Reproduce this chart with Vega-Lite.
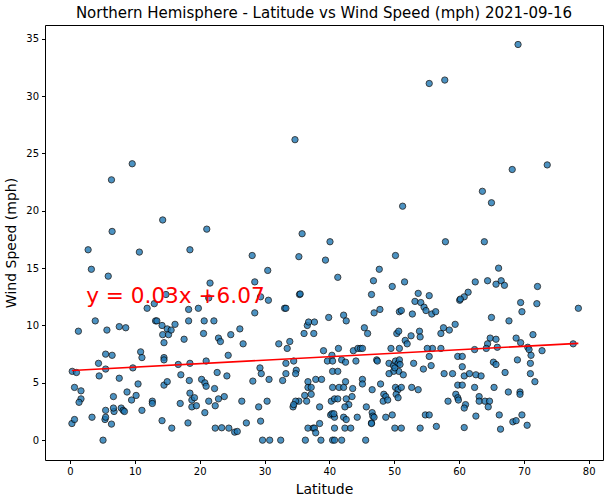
{
  "$schema": "https://vega.github.io/schema/vega-lite/v6.json",
  "width": 558,
  "height": 435,
  "autosize": {"type": "none"},
  "padding": {"left": 45, "top": 25, "right": 7, "bottom": 42},
  "background": "white",
  "config": {
    "font": "DejaVu Sans",
    "view": {"stroke": "#000000", "strokeWidth": 1},
    "axis": {
      "grid": false,
      "domain": false,
      "tickColor": "#000000",
      "tickSize": 3.5,
      "labelFontSize": 10,
      "labelColor": "#000000",
      "labelPadding": 3,
      "titleFontSize": 14,
      "titleFontWeight": "normal",
      "titleColor": "#000000"
    }
  },
  "title": {
    "text": "Northern Hemisphere - Latitude vs Wind Speed (mph) 2021-09-16",
    "fontSize": 15,
    "fontWeight": "normal",
    "color": "#000000",
    "offset": 4
  },
  "datasets": {
    "cities": [
      {"lat": 0.3, "wind": 1.45}, {"lat": 0.7, "wind": 1.8}, {"lat": 0.35, "wind": 6.0}, {"lat": 1.0, "wind": 5.9},
      {"lat": 0.7, "wind": 4.6}, {"lat": 1.7, "wind": 4.3}, {"lat": 1.7, "wind": 3.6}, {"lat": 1.4, "wind": 3.3},
      {"lat": 1.3, "wind": 9.5}, {"lat": 3.4, "wind": 2.0}, {"lat": 3.9, "wind": 10.4}, {"lat": 4.4, "wind": 6.7},
      {"lat": 4.5, "wind": 5.6}, {"lat": 5.1, "wind": 0}, {"lat": 5.4, "wind": 1.8}, {"lat": 5.5, "wind": 2.0},
      {"lat": 5.5, "wind": 2.6}, {"lat": 5.5, "wind": 7.5}, {"lat": 5.5, "wind": 6.2}, {"lat": 5.7, "wind": 9.6},
      {"lat": 6.4, "wind": 1.4}, {"lat": 6.5, "wind": 7.4}, {"lat": 6.7, "wind": 3.8}, {"lat": 6.8, "wind": 2.5},
      {"lat": 6.7, "wind": 2.8}, {"lat": 7.6, "wind": 9.9}, {"lat": 7.6, "wind": 5.4}, {"lat": 7.9, "wind": 2.8},
      {"lat": 8.2, "wind": 2.6}, {"lat": 8.4, "wind": 2.5}, {"lat": 8.6, "wind": 9.8}, {"lat": 8.8, "wind": 4.2},
      {"lat": 9.5, "wind": 3.5}, {"lat": 9.7, "wind": 6.3}, {"lat": 10.2, "wind": 3.9}, {"lat": 10.5, "wind": 4.9},
      {"lat": 10.9, "wind": 7.7}, {"lat": 11.1, "wind": 7.2}, {"lat": 11.1, "wind": 2.6}, {"lat": 11.9, "wind": 11.5},
      {"lat": 12.7, "wind": 3.4}, {"lat": 12.7, "wind": 3.2}, {"lat": 13.0, "wind": 11.9}, {"lat": 13.2, "wind": 10.4},
      {"lat": 13.4, "wind": 10.4}, {"lat": 14.2, "wind": 10.0}, {"lat": 14.2, "wind": 1.7}, {"lat": 14.3, "wind": 9.2},
      {"lat": 14.5, "wind": 8.5}, {"lat": 14.5, "wind": 7.2}, {"lat": 14.5, "wind": 7.0}, {"lat": 14.5, "wind": 4.8},
      {"lat": 15.0, "wind": 5.1}, {"lat": 15.0, "wind": 9.7}, {"lat": 15.2, "wind": 9.2}, {"lat": 15.6, "wind": 9.6},
      {"lat": 15.7, "wind": 1.05}, {"lat": 16.2, "wind": 10.1}, {"lat": 16.7, "wind": 6.6}, {"lat": 17.0, "wind": 3.2},
      {"lat": 17.1, "wind": 5.7}, {"lat": 17.6, "wind": 8.8}, {"lat": 18.2, "wind": 1.5}, {"lat": 18.3, "wind": 11.4},
      {"lat": 18.3, "wind": 10.4}, {"lat": 18.4, "wind": 5.2}, {"lat": 18.5, "wind": 6.7}, {"lat": 18.5, "wind": 4.1},
      {"lat": 18.8, "wind": 3.5}, {"lat": 18.8, "wind": 2.9}, {"lat": 19.2, "wind": 3.7}, {"lat": 19.5, "wind": 3.0},
      {"lat": 19.8, "wind": 11.5}, {"lat": 20.3, "wind": 5.3}, {"lat": 20.6, "wind": 9.3}, {"lat": 20.7, "wind": 10.4},
      {"lat": 20.8, "wind": 2.4}, {"lat": 20.8, "wind": 5.0}, {"lat": 21.0, "wind": 6.9}, {"lat": 21.0, "wind": 4.7},
      {"lat": 21.4, "wind": 3.4}, {"lat": 22.2, "wind": 10.4}, {"lat": 22.3, "wind": 4.5}, {"lat": 22.4, "wind": 3.0},
      {"lat": 22.4, "wind": 1.05}, {"lat": 22.7, "wind": 5.9}, {"lat": 22.9, "wind": 3.6}, {"lat": 22.9, "wind": 8.9},
      {"lat": 23.2, "wind": 8.6}, {"lat": 23.4, "wind": 1.08}, {"lat": 23.8, "wind": 3.8}, {"lat": 24.2, "wind": 5.6},
      {"lat": 24.4, "wind": 7.4}, {"lat": 24.5, "wind": 1.05}, {"lat": 24.8, "wind": 9.2}, {"lat": 25.4, "wind": 0.7},
      {"lat": 9.6, "wind": 24.1}, {"lat": 6.4, "wind": 22.7}, {"lat": 14.3, "wind": 19.2}, {"lat": 6.5, "wind": 18.2},
      {"lat": 21.1, "wind": 18.4}, {"lat": 2.8, "wind": 16.6}, {"lat": 10.7, "wind": 16.4}, {"lat": 18.5, "wind": 16.6},
      {"lat": 3.3, "wind": 14.9}, {"lat": 5.9, "wind": 14.3}, {"lat": 21.6, "wind": 13.7}, {"lat": 14.8, "wind": 12.7},
      {"lat": 21.4, "wind": 12.4},
      {"lat": 25.8, "wind": 0.76}, {"lat": 27.2, "wind": 1.5}, {"lat": 29.4, "wind": 1.66}, {"lat": 29.1, "wind": 2.9},
      {"lat": 30.4, "wind": 3.4}, {"lat": 26.5, "wind": 3.4}, {"lat": 26.2, "wind": 9.7}, {"lat": 26.7, "wind": 8.4},
      {"lat": 28.5, "wind": 11.1}, {"lat": 30.6, "wind": 12.2}, {"lat": 33.1, "wind": 11.5}, {"lat": 33.3, "wind": 11.5},
      {"lat": 32.2, "wind": 8.4}, {"lat": 33.9, "wind": 8.6}, {"lat": 33.5, "wind": 8.0}, {"lat": 33.3, "wind": 6.7},
      {"lat": 34.5, "wind": 6.9}, {"lat": 29.3, "wind": 6.3}, {"lat": 29.5, "wind": 5.8}, {"lat": 30.7, "wind": 5.3},
      {"lat": 28.2, "wind": 5.15}, {"lat": 32.8, "wind": 5.2}, {"lat": 33.3, "wind": 5.8}, {"lat": 34.9, "wind": 6.1},
      {"lat": 34.8, "wind": 5.8}, {"lat": 35.3, "wind": 3.4}, {"lat": 34.8, "wind": 3.4}, {"lat": 34.4, "wind": 2.9},
      {"lat": 34.5, "wind": 3.1}, {"lat": 36.2, "wind": 3.9}, {"lat": 36.5, "wind": 3.4}, {"lat": 36.7, "wind": 5.1},
      {"lat": 36.7, "wind": 4.6}, {"lat": 37.2, "wind": 4.6}, {"lat": 37.2, "wind": 4.0}, {"lat": 36.1, "wind": 9.3},
      {"lat": 36.6, "wind": 10.0}, {"lat": 36.8, "wind": 10.3}, {"lat": 37.7, "wind": 10.3}, {"lat": 37.6, "wind": 9.3},
      {"lat": 37.9, "wind": 5.3}, {"lat": 38.8, "wind": 5.3}, {"lat": 38.5, "wind": 2.9}, {"lat": 38.5, "wind": 1.45},
      {"lat": 36.7, "wind": 1.05}, {"lat": 37.5, "wind": 1.05}, {"lat": 37.7, "wind": 1.05}, {"lat": 37.9, "wind": 0.64},
      {"lat": 36.3, "wind": 0}, {"lat": 38.7, "wind": 0}, {"lat": 29.7, "wind": 0}, {"lat": 30.8, "wind": 0},
      {"lat": 32.5, "wind": 0}, {"lat": 39.1, "wind": 7.8}, {"lat": 39.9, "wind": 10.7}, {"lat": 39.7, "wind": 6.9},
      {"lat": 40.4, "wind": 7.4}, {"lat": 40.5, "wind": 6.9}, {"lat": 40.5, "wind": 6.0}, {"lat": 41.3, "wind": 6.0},
      {"lat": 40.5, "wind": 4.6}, {"lat": 41.5, "wind": 4.6}, {"lat": 42.2, "wind": 4.6}, {"lat": 41.4, "wind": 8.0},
      {"lat": 42.2, "wind": 10.9}, {"lat": 42.6, "wind": 10.4}, {"lat": 41.9, "wind": 7.0}, {"lat": 42.5, "wind": 6.8},
      {"lat": 42.5, "wind": 5.1}, {"lat": 43.6, "wind": 4.5}, {"lat": 40.3, "wind": 3.4}, {"lat": 40.8, "wind": 3.6},
      {"lat": 41.3, "wind": 3.6}, {"lat": 42.6, "wind": 3.6}, {"lat": 43.5, "wind": 3.8}, {"lat": 43.0, "wind": 3.1},
      {"lat": 42.4, "wind": 2.9}, {"lat": 40.2, "wind": 2.2}, {"lat": 40.4, "wind": 2.3}, {"lat": 40.8, "wind": 2.0},
      {"lat": 40.7, "wind": 2.3}, {"lat": 42.2, "wind": 2.0}, {"lat": 42.6, "wind": 1.8}, {"lat": 44.3, "wind": 2.0},
      {"lat": 40.8, "wind": 1.05}, {"lat": 42.4, "wind": 1.05}, {"lat": 43.3, "wind": 1.05}, {"lat": 40.5, "wind": 0},
      {"lat": 40.8, "wind": 0}, {"lat": 41.9, "wind": 0}, {"lat": 43.7, "wind": 7.8}, {"lat": 44.4, "wind": 8.0},
      {"lat": 44.8, "wind": 8.0}, {"lat": 45.1, "wind": 8.0}, {"lat": 44.1, "wind": 6.9}, {"lat": 45.1, "wind": 5.3},
      {"lat": 45.1, "wind": 4.9}, {"lat": 45.4, "wind": 9.8}, {"lat": 45.9, "wind": 9.3}, {"lat": 46.9, "wind": 11.1},
      {"lat": 47.8, "wind": 11.4}, {"lat": 47.3, "wind": 7.0}, {"lat": 47.4, "wind": 6.9}, {"lat": 46.6, "wind": 4.4},
      {"lat": 47.9, "wind": 4.9}, {"lat": 45.7, "wind": 2.9}, {"lat": 46.6, "wind": 2.4}, {"lat": 46.7, "wind": 2.1},
      {"lat": 46.9, "wind": 2.0}, {"lat": 46.5, "wind": 1.5}, {"lat": 46.5, "wind": 1.45}, {"lat": 45.6, "wind": 0},
      {"lat": 48.4, "wind": 4.0}, {"lat": 48.7, "wind": 3.8}, {"lat": 48.3, "wind": 3.4}, {"lat": 49.0, "wind": 3.5},
      {"lat": 48.7, "wind": 2.0}, {"lat": 49.7, "wind": 2.2}, {"lat": 50.1, "wind": 1.05}, {"lat": 51.1, "wind": 1.05},
      {"lat": 49.5, "wind": 8.0}, {"lat": 49.2, "wind": 6.7}, {"lat": 49.9, "wind": 6.5}, {"lat": 50.2, "wind": 6.9},
      {"lat": 50.6, "wind": 6.7}, {"lat": 50.8, "wind": 7.0}, {"lat": 50.9, "wind": 6.6}, {"lat": 50.7, "wind": 6.0},
      {"lat": 49.9, "wind": 6.0}, {"lat": 49.2, "wind": 5.8}, {"lat": 50.1, "wind": 6.3}, {"lat": 51.4, "wind": 5.7},
      {"lat": 50.8, "wind": 8.0}, {"lat": 50.2, "wind": 4.6}, {"lat": 50.6, "wind": 4.4}, {"lat": 50.3, "wind": 4.0},
      {"lat": 50.6, "wind": 3.7}, {"lat": 51.1, "wind": 4.6}, {"lat": 52.7, "wind": 4.6}, {"lat": 50.4, "wind": 9.3},
      {"lat": 50.7, "wind": 9.5}, {"lat": 51.7, "wind": 8.7}, {"lat": 52.0, "wind": 8.4}, {"lat": 52.6, "wind": 9.1},
      {"lat": 50.8, "wind": 11.2}, {"lat": 51.1, "wind": 11.3}, {"lat": 52.8, "wind": 11.0}, {"lat": 53.0, "wind": 6.7},
      {"lat": 34.7, "wind": 26.2}, {"lat": 51.3, "wind": 20.4}, {"lat": 35.8, "wind": 18.0}, {"lat": 40.1, "wind": 17.3},
      {"lat": 28.1, "wind": 16.1}, {"lat": 35.3, "wind": 16.0}, {"lat": 39.4, "wind": 15.7}, {"lat": 30.5, "wind": 14.8},
      {"lat": 41.3, "wind": 14.2}, {"lat": 50.2, "wind": 16.1}, {"lat": 47.7, "wind": 14.9}, {"lat": 46.8, "wind": 13.9},
      {"lat": 49.7, "wind": 13.4}, {"lat": 51.6, "wind": 13.8}, {"lat": 28.5, "wind": 13.8}, {"lat": 29.4, "wind": 12.5},
      {"lat": 35.4, "wind": 12.7}, {"lat": 35.5, "wind": 12.75}, {"lat": 46.5, "wind": 12.7}, {"lat": 53.2, "wind": 12.1},
      {"lat": 54.1, "wind": 12.0}, {"lat": 54.6, "wind": 11.6}, {"lat": 54.9, "wind": 11.3}, {"lat": 55.8, "wind": 11.0},
      {"lat": 56.4, "wind": 11.2}, {"lat": 60.1, "wind": 12.2}, {"lat": 69.5, "wind": 12.0}, {"lat": 72.0, "wind": 11.9},
      {"lat": 78.4, "wind": 11.5}, {"lat": 69.7, "wind": 11.2}, {"lat": 65.0, "wind": 10.7}, {"lat": 67.7, "wind": 10.4},
      {"lat": 59.4, "wind": 10.1}, {"lat": 57.6, "wind": 9.8}, {"lat": 58.5, "wind": 9.6}, {"lat": 57.2, "wind": 9.3},
      {"lat": 53.9, "wind": 9.5}, {"lat": 54.0, "wind": 9.0}, {"lat": 71.4, "wind": 9.2}, {"lat": 68.8, "wind": 8.9},
      {"lat": 69.5, "wind": 8.5}, {"lat": 64.8, "wind": 8.9}, {"lat": 65.7, "wind": 8.8}, {"lat": 64.4, "wind": 8.4},
      {"lat": 64.2, "wind": 8.0}, {"lat": 65.9, "wind": 8.1}, {"lat": 62.4, "wind": 7.9}, {"lat": 57.2, "wind": 8.0},
      {"lat": 55.9, "wind": 8.0}, {"lat": 55.1, "wind": 8.0}, {"lat": 55.4, "wind": 7.3}, {"lat": 70.6, "wind": 8.1},
      {"lat": 70.8, "wind": 7.9}, {"lat": 77.6, "wind": 8.4}, {"lat": 72.8, "wind": 7.8}, {"lat": 71.1, "wind": 7.4},
      {"lat": 69.0, "wind": 7.0}, {"lat": 71.0, "wind": 6.7}, {"lat": 59.8, "wind": 7.3}, {"lat": 60.5, "wind": 7.3},
      {"lat": 60.5, "wind": 6.4}, {"lat": 65.3, "wind": 6.8}, {"lat": 65.7, "wind": 6.6}, {"lat": 55.7, "wind": 6.5},
      {"lat": 54.5, "wind": 6.2}, {"lat": 57.7, "wind": 5.8}, {"lat": 59.0, "wind": 5.8}, {"lat": 60.8, "wind": 5.6},
      {"lat": 61.6, "wind": 5.8}, {"lat": 62.6, "wind": 5.7}, {"lat": 63.4, "wind": 5.6}, {"lat": 67.1, "wind": 5.9},
      {"lat": 71.0, "wind": 5.8}, {"lat": 71.7, "wind": 5.1}, {"lat": 53.7, "wind": 4.4}, {"lat": 59.8, "wind": 4.8},
      {"lat": 60.5, "wind": 4.8}, {"lat": 62.4, "wind": 4.6}, {"lat": 65.4, "wind": 4.6}, {"lat": 67.6, "wind": 4.2},
      {"lat": 69.4, "wind": 4.2}, {"lat": 69.4, "wind": 4.0}, {"lat": 59.5, "wind": 4.0}, {"lat": 59.8, "wind": 3.7},
      {"lat": 59.9, "wind": 3.5}, {"lat": 63.1, "wind": 3.8}, {"lat": 63.1, "wind": 3.4}, {"lat": 64.0, "wind": 3.4},
      {"lat": 64.7, "wind": 3.4}, {"lat": 64.5, "wind": 2.9}, {"lat": 61.0, "wind": 3.1}, {"lat": 60.8, "wind": 2.8},
      {"lat": 58.3, "wind": 3.4}, {"lat": 54.8, "wind": 2.2}, {"lat": 55.4, "wind": 2.2}, {"lat": 62.6, "wind": 2.1},
      {"lat": 66.2, "wind": 2.2}, {"lat": 69.7, "wind": 2.2}, {"lat": 68.3, "wind": 1.6}, {"lat": 68.8, "wind": 1.7},
      {"lat": 70.5, "wind": 1.3}, {"lat": 54.0, "wind": 1.05}, {"lat": 56.5, "wind": 1.2}, {"lat": 60.8, "wind": 1.1},
      {"lat": 66.4, "wind": 0.96},
      {"lat": 68.2, "wind": 23.6}, {"lat": 73.6, "wind": 24.0}, {"lat": 63.6, "wind": 21.7}, {"lat": 65.0, "wind": 20.7},
      {"lat": 57.9, "wind": 17.3}, {"lat": 63.9, "wind": 17.3}, {"lat": 66.1, "wind": 15.0}, {"lat": 53.7, "wind": 12.8},
      {"lat": 55.4, "wind": 12.6}, {"lat": 62.5, "wind": 13.8}, {"lat": 64.4, "wind": 13.9}, {"lat": 65.7, "wind": 13.6},
      {"lat": 66.5, "wind": 13.9}, {"lat": 67.0, "wind": 13.5}, {"lat": 61.4, "wind": 12.9}, {"lat": 60.8, "wind": 12.5},
      {"lat": 60.2, "wind": 12.3}, {"lat": 72.1, "wind": 13.4},
      {"lat": 55.4, "wind": 31.1}, {"lat": 57.8, "wind": 31.4}, {"lat": 69.1, "wind": 34.5}
    ],
    "fit": [
      {"lat": 0.3, "wind": 6.08},
      {"lat": 78.4, "wind": 8.44}
    ],
    "note": [
      {"lat": 2.5, "wind": 12.0, "label": "y = 0.03x +6.07"}
    ]
  },
  "layer": [
    {
      "data": {"name": "cities"},
      "mark": {"type": "point", "shape": "circle", "filled": true, "size": 40, "color": "#1f77b4", "opacity": 0.8, "stroke": "#000000", "strokeWidth": 0.9},
      "encoding": {
        "x": {
          "field": "lat",
          "type": "quantitative",
          "title": "Latitude",
          "scale": {"domain": [-3.85, 82.2], "nice": false, "zero": false},
          "axis": {"values": [0, 10, 20, 30, 40, 50, 60, 70, 80], "titlePadding": 6}
        },
        "y": {
          "field": "wind",
          "type": "quantitative",
          "title": "Wind Speed (mph)",
          "scale": {"domain": [-1.73, 36.2], "nice": false, "zero": false},
          "axis": {"values": [0, 5, 10, 15, 20, 25, 30, 35], "titlePadding": 7}
        }
      }
    },
    {
      "data": {"name": "fit"},
      "mark": {"type": "line", "color": "#ff0000", "strokeWidth": 1.6},
      "encoding": {
        "x": {"field": "lat", "type": "quantitative"},
        "y": {"field": "wind", "type": "quantitative"}
      }
    },
    {
      "data": {"name": "note"},
      "mark": {"type": "text", "color": "#ff0000", "fontSize": 21.6, "align": "left", "baseline": "alphabetic"},
      "encoding": {
        "x": {"field": "lat", "type": "quantitative"},
        "y": {"field": "wind", "type": "quantitative"},
        "text": {"field": "label"}
      }
    }
  ]
}
